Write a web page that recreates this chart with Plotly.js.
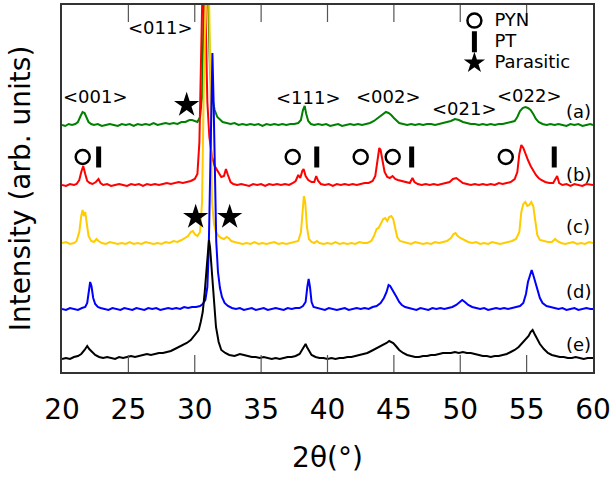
<!DOCTYPE html>
<html>
<head>
<meta charset="utf-8">
<script src="https://cdn.plot.ly/plotly-3.0.1.min.js"></script>
<style>html,body{margin:0;padding:0;background:#fff;}#chart{width:611px;height:479px;}</style>
</head>
<body>
<div id="chart"></div>
<script>
// ---- data (2θ in degrees, intensity in arbitrary offset units) ----
const seriesNames = ["(a)", "(b)", "(c)", "(d)", "(e)"];

const xA = [20.0,20.25,20.5,20.75,21.0,21.2,21.4,21.55,21.7,21.85,22.0,22.2,22.4,22.7,23.0,23.3,23.6,23.9,24.2,24.5,24.8,25.1,25.4,25.7,26.0,26.3,26.6,26.9,27.2,27.5,27.8,28.1,28.4,28.7,29.0,29.3,29.6,29.8,30.0,30.2,30.4,30.55,30.7,30.85,31.0,31.15,31.3,31.5,31.7,31.9,32.1,32.4,32.7,33.0,33.3,33.6,33.9,34.2,34.5,34.8,35.1,35.4,35.7,36.0,36.3,36.6,36.9,37.2,37.5,37.8,38.0,38.15,38.28,38.4,38.55,38.75,39.0,39.3,39.6,39.9,40.2,40.5,40.8,41.1,41.4,41.7,42.0,42.3,42.6,42.9,43.2,43.5,43.8,44.0,44.2,44.4,44.6,44.8,45.0,45.2,45.4,45.7,46.0,46.3,46.6,46.9,47.2,47.5,47.8,48.1,48.4,48.7,49.0,49.3,49.6,49.9,50.2,50.5,50.8,51.1,51.4,51.7,52.0,52.3,52.6,52.9,53.2,53.5,53.8,54.1,54.3,54.5,54.7,54.9,55.1,55.3,55.5,55.7,55.9,56.2,56.5,56.8,57.1,57.4,57.7,58.0,58.3,58.6,58.9,59.2,59.5,59.8,60.0];
const yA = [247,246,248,247,248,250,256,260,259,255,250,248,247,248,246,247,248,247,246,248,247,248,246,248,247,248,247,249,247,248,249,248,249,248,250,250,252,252,251,250,255,275,380,420,380,300,275,262,255,252,250,249,248,249,247,248,247,248,247,248,246,248,247,248,247,248,247,248,248,249,252,262,266,258,251,248,247,248,247,248,246,247,248,246,247,248,247,248,247,248,249,251,254,256,258,260,259,257,254,251,249,248,247,248,247,248,247,248,248,247,248,249,250,251,253,252,250,249,248,248,247,248,247,248,247,248,248,249,250,251,255,261,264,265,264,262,258,253,250,248,247,248,247,248,247,246,248,247,248,246,247,248,247];

const xB = [20.0,20.3,20.6,20.9,21.1,21.3,21.45,21.6,21.75,21.9,22.1,22.3,22.55,22.75,22.9,23.1,23.4,23.7,24.0,24.3,24.6,24.9,25.2,25.5,25.8,26.1,26.4,26.7,27.0,27.3,27.6,27.9,28.2,28.5,28.8,29.1,29.4,29.7,30.0,30.2,30.35,30.45,30.55,30.65,30.75,30.85,30.95,31.1,31.3,31.5,31.65,31.8,32.0,32.2,32.35,32.5,32.7,32.9,33.2,33.5,33.8,34.1,34.4,34.7,35.0,35.3,35.6,35.9,36.2,36.5,36.8,37.1,37.4,37.6,37.8,37.95,38.1,38.2,38.35,38.55,38.8,39.0,39.15,39.3,39.5,39.8,40.1,40.4,40.7,41.0,41.3,41.6,41.9,42.2,42.5,42.8,43.1,43.4,43.6,43.75,43.9,44.0,44.15,44.3,44.5,44.7,44.9,45.1,45.3,45.6,45.9,46.2,46.4,46.55,46.8,47.1,47.4,47.7,48.0,48.3,48.6,48.9,49.2,49.45,49.7,49.9,50.2,50.5,50.8,51.1,51.4,51.7,52.0,52.3,52.6,52.9,53.2,53.5,53.8,54.1,54.3,54.45,54.6,54.75,54.9,55.1,55.3,55.5,55.7,55.9,56.1,56.4,56.7,57.0,57.15,57.3,57.45,57.7,58.0,58.3,58.6,58.9,59.2,59.5,59.8,60.0];
const yB = [187,186,188,187,188,192,200,206,198,191,189,188,190,193,189,187,188,186,187,188,187,186,188,187,188,186,188,187,188,187,188,189,188,189,190,189,190,191,193,198,230,300,400,430,400,330,270,235,215,206,203,200,195,196,203,197,190,188,187,188,187,186,188,187,188,186,188,187,188,187,188,187,189,191,197,194,201,203,196,192,190,190,196,191,188,187,188,186,188,187,188,187,188,187,188,189,189,191,196,210,224,222,210,200,195,194,196,193,192,191,190,189,194,190,188,187,188,187,188,187,188,189,190,193,194,192,189,188,187,188,187,188,187,188,187,189,188,189,190,193,200,218,227,224,218,212,206,201,197,194,192,190,189,189,193,196,189,187,188,186,188,187,186,188,187,187];

const xC = [20.0,20.3,20.6,20.9,21.1,21.3,21.45,21.55,21.65,21.75,21.85,22.0,22.2,22.4,22.6,22.75,23.0,23.3,23.6,23.9,24.2,24.5,24.8,25.1,25.4,25.7,26.0,26.3,26.6,26.9,27.2,27.5,27.8,28.1,28.4,28.7,29.0,29.3,29.5,29.7,29.85,30.0,30.2,30.4,30.55,30.7,30.8,30.95,31.1,31.2,31.3,31.45,31.6,31.8,32.0,32.2,32.4,32.55,32.75,33.0,33.3,33.6,33.9,34.2,34.5,34.8,35.1,35.4,35.7,36.0,36.3,36.6,36.9,37.2,37.5,37.8,38.0,38.12,38.22,38.32,38.45,38.6,38.8,39.0,39.2,39.4,39.7,40.0,40.3,40.6,40.9,41.2,41.5,41.8,42.1,42.4,42.7,43.0,43.3,43.5,43.7,43.85,44.0,44.2,44.35,44.5,44.65,44.8,44.95,45.1,45.25,45.45,45.7,46.0,46.3,46.6,46.9,47.2,47.5,47.8,48.1,48.4,48.7,49.0,49.3,49.5,49.65,49.8,50.0,50.3,50.6,50.9,51.2,51.5,51.8,52.1,52.4,52.7,53.0,53.3,53.6,53.9,54.2,54.45,54.6,54.75,54.9,55.05,55.2,55.35,55.5,55.65,55.8,56.0,56.3,56.6,56.9,57.15,57.3,57.6,57.9,58.2,58.5,58.8,59.1,59.4,59.7,60.0];
const yC = [129,130,128,129,131,140,156,162,156,160,150,136,131,130,133,131,129,128,130,129,128,129,128,130,128,129,128,130,129,128,129,128,130,129,131,130,132,134,136,140,141,138,136,140,170,300,420,440,360,230,170,148,140,136,134,133,135,134,131,130,129,128,129,128,130,128,129,128,129,130,128,129,128,129,130,131,140,165,176,170,145,133,130,129,131,129,128,129,128,130,128,129,128,129,128,130,129,129,131,136,143,144,148,153,154,151,155,156,153,143,135,131,130,129,128,130,129,128,129,128,130,129,130,131,134,138,139,136,134,132,130,129,130,128,129,128,130,129,128,129,130,131,133,140,160,168,170,166,167,170,166,150,137,132,131,130,130,133,131,129,128,129,130,128,129,128,130,129];

const xD = [20.0,20.3,20.6,20.9,21.2,21.5,21.75,21.9,22.0,22.12,22.22,22.35,22.5,22.7,22.9,23.2,23.5,23.8,24.1,24.4,24.7,25.0,25.3,25.6,25.9,26.2,26.5,26.8,27.1,27.4,27.7,28.0,28.3,28.6,28.9,29.2,29.5,29.8,30.1,30.4,30.6,30.8,30.95,31.05,31.15,31.25,31.33,31.42,31.52,31.62,31.75,31.9,32.05,32.25,32.5,32.8,33.1,33.4,33.7,34.0,34.3,34.6,34.9,35.2,35.5,35.8,36.1,36.4,36.7,37.0,37.3,37.6,37.9,38.15,38.35,38.48,38.58,38.68,38.8,38.95,39.2,39.5,39.8,40.1,40.4,40.7,41.0,41.3,41.6,41.9,42.2,42.5,42.8,43.1,43.4,43.7,44.0,44.25,44.45,44.6,44.72,44.85,45.0,45.2,45.4,45.6,45.85,46.1,46.4,46.7,47.0,47.3,47.6,47.9,48.2,48.5,48.8,49.1,49.4,49.7,49.95,50.15,50.35,50.6,50.9,51.2,51.5,51.8,52.1,52.4,52.7,53.0,53.3,53.6,53.9,54.2,54.5,54.75,54.95,55.1,55.25,55.38,55.5,55.65,55.8,56.0,56.2,56.5,56.8,57.1,57.4,57.7,58.0,58.3,58.6,58.9,59.2,59.5,59.8,60.0];
const yD = [63,62,64,63,62,64,65,69,78,90,86,74,68,65,64,63,62,64,63,62,64,63,62,64,63,62,64,63,64,62,63,64,63,64,63,65,64,65,65,66,68,72,85,120,190,280,319,270,190,130,100,84,75,69,66,64,63,64,62,63,64,62,63,64,62,63,64,63,62,64,63,64,64,66,70,85,93,85,70,65,64,63,62,64,63,62,63,64,62,63,64,63,64,63,65,66,69,74,80,87,86,83,80,75,70,67,65,64,63,62,64,63,62,64,63,64,63,64,65,67,70,72,70,67,65,64,63,64,62,63,64,63,64,63,64,65,66,69,78,90,98,102,97,90,82,74,69,66,65,64,63,64,62,63,64,62,63,64,63,63];

const xE = [20.0,20.3,20.6,20.9,21.2,21.45,21.7,21.9,22.05,22.25,22.5,22.8,23.1,23.4,23.7,24.0,24.3,24.6,24.9,25.2,25.5,25.8,26.1,26.4,26.7,27.0,27.3,27.6,27.9,28.2,28.5,28.8,29.1,29.4,29.7,29.9,30.1,30.3,30.45,30.6,30.75,30.9,31.0,31.07,31.15,31.25,31.35,31.45,31.6,31.8,32.0,32.3,32.6,33.0,33.4,33.7,34.0,34.3,34.6,34.9,35.2,35.5,35.8,36.1,36.4,36.7,37.0,37.3,37.6,37.9,38.1,38.25,38.35,38.45,38.6,38.8,39.1,39.4,39.7,40.0,40.3,40.6,40.9,41.2,41.5,41.8,42.1,42.4,42.7,43.0,43.3,43.6,43.9,44.2,44.45,44.65,44.8,44.95,45.15,45.4,45.7,46.0,46.3,46.6,46.9,47.2,47.5,47.8,48.1,48.4,48.7,49.0,49.3,49.6,49.9,50.2,50.5,50.8,51.1,51.4,51.7,52.0,52.3,52.6,52.9,53.2,53.5,53.8,54.1,54.4,54.7,54.95,55.15,55.3,55.45,55.6,55.8,56.0,56.3,56.6,56.9,57.2,57.5,57.8,58.1,58.4,58.7,59.0,59.3,59.6,60.0];
const yE = [13,14,13,15,16,18,22,26,23,20,17,15,14,15,14,13,15,14,15,16,15,16,17,18,17,18,19,19,20,21,23,25,27,29,32,35,38,42,50,60,80,108,125,132,125,105,85,65,45,30,22,19,17,16,18,17,16,15,15,14,15,14,13,14,13,14,15,15,16,18,22,26,28,25,21,17,15,14,14,13,14,13,14,14,15,15,16,17,18,19,21,23,25,27,29,31,30,29,26,22,19,17,16,15,15,16,16,17,17,18,19,19,19,20,19,20,19,19,18,17,16,16,15,16,16,17,18,20,22,25,29,33,36,40,42,38,33,28,23,19,17,16,15,15,14,14,15,14,13,14,14];

const seriesColors = ["#008000", "#ff0000", "#ffcc00", "#0000ff", "#000000"];

// phase markers (2θ positions and the level they are drawn at)
const pynX = [21.56, 37.38, 42.5, 44.91, 53.43];
const pynY = [215, 215, 215, 215, 215];
const ptX = [22.76, 39.19, 46.34, 57.08];
const ptY = [215, 215, 215, 215];
const parX = [29.39, 30.07, 32.63];
const parY = [267, 155, 155];
const markerNames = ["PYN", "PT", "Parasitic"];

const hklLabels = ["<001>", "<011>", "<111>", "<002>", "<021>", "<022>"];
const tickVals = [20, 25, 30, 35, 40, 45, 50, 55, 60];
const tickText = ["20", "25", "30", "35", "40", "45", "50", "55", "60"];

const Y_RANGE = [0, 367];
const TICK_LEN = 17;

// ---- traces ----
const xs = [xA, xB, xC, xD, xE];
const ys = [yA, yB, yC, yD, yE];
const traces = [];
for (let i = 0; i < 5; i++) {
  traces.push({
    x: xs[i], y: ys[i], type: "scatter", mode: "lines",
    name: seriesNames[i], showlegend: false,
    line: {color: seriesColors[i], width: 2},
    hoverinfo: "skip"
  });
}

// inward tick marks on the bottom and top frame edges, built from the tick values
// (one y unit equals one pixel of plot height here)
const tickX = [], tickY = [];
tickVals.slice(1, -1).forEach(v => {
  tickX.push(v, v, null, v, v, null);
  tickY.push(Y_RANGE[0], Y_RANGE[0] + TICK_LEN, null, Y_RANGE[1], Y_RANGE[1] - TICK_LEN, null);
});
traces.push({x: tickX, y: tickY, type: "scatter", mode: "lines", showlegend: false,
  hoverinfo: "skip", name: "ticks", line: {color: "#555", width: 1.2}});

const legendName = (t) => '<span style="font-size:18px">' + t + '</span>';
traces.push({x: pynX, y: pynY, type: "scatter", mode: "markers", name: legendName(markerNames[0]),
  marker: {symbol: "circle-open", size: 14, color: "#000", line: {color: "#000", width: 2.5}}});
traces.push({x: ptX, y: ptY, type: "scatter", mode: "markers", name: legendName(markerNames[1]),
  marker: {symbol: "line-ns", size: 15, color: "#000", line: {color: "#000", width: 5}}});
traces.push({x: parX, y: parY, type: "scatter", mode: "markers", name: legendName(markerNames[2]),
  marker: {symbol: "star", size: 19, color: "#000", line: {width: 0}}});

const FONT = "DejaVu Sans, Verdana, sans-serif";
const hklPos = [[22.54, 275.5], [27.43, 345], [38.59, 275], [44.61, 276], [50.3, 264], [55.23, 276.5]];
const seriesLabelY = [261, 198, 146, 81, 28];
const annotations = [];
hklLabels.forEach((t, i) => annotations.push({
  x: hklPos[i][0], y: hklPos[i][1], xref: "x", yref: "y", text: t.replace(/</g, "&lt;").replace(/>/g, "&gt;"),
  showarrow: false, font: {family: FONT, size: 18, color: "#000"}
}));
seriesNames.forEach((t, i) => annotations.push({
  x: 58.88, y: seriesLabelY[i], xref: "x", yref: "y", text: t,
  showarrow: false, font: {family: FONT, size: 18, color: "#000"}
}));

const layout = {
  width: 611, height: 479,
  margin: {l: 62, r: 18, t: 5, b: 107},
  paper_bgcolor: "#fff", plot_bgcolor: "#fff",
  font: {family: FONT, color: "#000"},
  showlegend: true,
  legend: {x: 0.739, y: 1.0, xanchor: "left", yanchor: "top", bgcolor: "rgba(0,0,0,0)",
    font: {family: FONT, size: 14, color: "#000"}, tracegroupgap: 0, itemwidth: 30},
  xaxis: {
    range: [20, 60], tickmode: "array", tickvals: tickVals, ticktext: tickText,
    ticks: "", showline: true, linecolor: "#333", linewidth: 1.5, mirror: true,
    showgrid: false, zeroline: false,
    tickfont: {family: FONT, size: 28, color: "#000"}, ticklabelstandoff: 12,
    title: {text: "2θ(°)", font: {family: FONT, size: 28, color: "#000"}, standoff: 22}
  },
  yaxis: {
    range: Y_RANGE, showticklabels: false, ticks: "",
    showline: true, linecolor: "#333", linewidth: 1.5, mirror: true,
    showgrid: false, zeroline: false,
    title: {text: "Intensity (arb. units)", font: {family: FONT, size: 28, color: "#000"}, standoff: 21}
  },
  annotations: annotations
};

Plotly.newPlot("chart", traces, layout, {displayModeBar: false});
</script>
</body>
</html>
